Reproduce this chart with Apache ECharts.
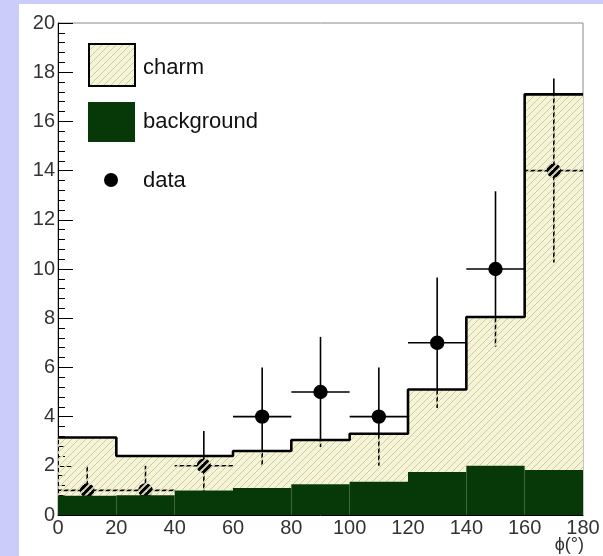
<!DOCTYPE html>
<html>
<head>
<meta charset="utf-8">
<script src="https://cdn.jsdelivr.net/npm/echarts@6/dist/echarts.min.js"></script>
<style>
  html, body { margin: 0; padding: 0; }
  #wrap { position: relative; width: 603px; height: 556px; background: #ccccfa; overflow: hidden; }
  #panel { position: absolute; left: 19px; top: 4px; right: 0; bottom: 0; background: #ffffff; }
  #chart { position: absolute; left: 0; top: 0; width: 603px; height: 556px; }
</style>
</head>
<body>
<div id="wrap"><div id="panel"></div><div id="chart"></div></div>
<script>
// Histogram binning in phi (degrees)
const binEdges = [0, 20, 40, 60, 80, 100, 120, 140, 160, 180];
// Background template (bottom of the stack)
const backgroundCounts = [0.78, 0.8, 1.0, 1.1, 1.25, 1.35, 1.75, 2.0, 1.83];
// Charm + background (top of the stack)
const stackTotal = [3.15, 2.4, 2.4, 2.6, 3.05, 3.3, 5.1, 8.05, 17.1];
// Measured points with vertical error ranges
const dataX = [10, 30, 50, 70, 90, 110, 130, 150, 170];
const dataY = [1, 1, 2, 4, 5, 4, 7, 10, 14];
const dataLow = [0, 0, 0.59, 2.0, 2.76, 2.0, 4.35, 6.84, 10.26];
const dataHigh = [2.0, 2.0, 3.41, 6.0, 7.24, 6.0, 9.65, 13.16, 17.74];
const axisTitle = 'ϕ(°)';

const FONT = 'Liberation Sans, Arial, sans-serif';
const PALE = '#f6f4d6';
const HATCH = '#c2c09e';
const DARK_GREEN = '#073807';

// Diagonal "/" hatch tile; optional opaque base colour
function hatchTile(base) {
  const s = 7;
  const c = document.createElement('canvas');
  c.width = s; c.height = s;
  const g = c.getContext('2d');
  if (base) { g.fillStyle = base; g.fillRect(0, 0, s, s); }
  for (let k = -1; k <= 1; k++) {
    g.beginPath();
    g.moveTo(k * s - 1, s + 1);
    g.lineTo(k * s + s + 1, -1);
    if (!base) {
      g.strokeStyle = PALE; g.lineWidth = 1.9; g.stroke();
    }
    g.strokeStyle = HATCH; g.lineWidth = 0.8; g.stroke();
  }
  return c;
}
const hatchOverlay = { image: hatchTile(null), repeat: 'repeat' };
const hatchSolid = { image: hatchTile(PALE), repeat: 'repeat' };

function binSeries(name, bottoms, tops, fill, z) {
  return {
    type: 'custom', name: name, z: z, silent: true,
    data: tops.map((t, i) => [binEdges[i], binEdges[i + 1], bottoms ? bottoms[i] : 0, t]),
    encode: { x: [0, 1], y: [2, 3] },
    renderItem: function (params, api) {
      const a = api.coord([api.value(0), api.value(3)]);
      const b = api.coord([api.value(1), api.value(2)]);
      return {
        type: 'rect',
        shape: { x: a[0], y: a[1], width: b[0] - a[0], height: b[1] - a[1] },
        style: { fill: fill }
      };
    }
  };
}

const outline = binEdges.map((x, i) => [x, stackTotal[Math.min(i, stackTotal.length - 1)]]);

const pointData = dataX.map((x, i) => [x, dataY[i], dataLow[i], dataHigh[i], binEdges[i], binEdges[i + 1]]);

const chart = echarts.init(document.getElementById('chart'));
chart.setOption({
  animation: false,
  backgroundColor: 'transparent',
  grid: {
    left: 58, top: 23, width: 525, height: 492,
    containLabel: false, outerBoundsMode: 'none',
    show: true, borderColor: '#8a8a8a', borderWidth: 1, backgroundColor: 'transparent'
  },
  xAxis: {
    type: 'value', min: 0, max: 180, interval: 20,
    axisLine: { show: true, lineStyle: { color: '#000', width: 1 } },
    axisTick: { show: false },
    splitLine: { show: false },
    axisLabel: { color: '#333', fontSize: 20, fontFamily: FONT, margin: 3 }
  },
  yAxis: {
    type: 'value', min: 0, max: 20, interval: 2, z: 1.5,
    axisLine: { show: true, lineStyle: { color: '#000', width: 1 } },
    axisTick: { show: true, inside: true, length: 15, lineStyle: { color: '#000', width: 1 } },
    minorTick: { show: true, splitNumber: 5, length: 7, lineStyle: { color: '#000', width: 1 } },
    splitLine: { show: false },
    axisLabel: { color: '#333', fontSize: 20, fontFamily: FONT, margin: 3 }
  },
  series: [
    binSeries('charm', backgroundCounts, stackTotal, PALE, 1),
    {
      type: 'custom', name: 'data', z: 2, silent: true,
      data: pointData,
      encode: { x: 0, y: [1, 2, 3] },
      renderItem: function (params, api) {
        const c = api.coord([api.value(0), api.value(1)]);
        const lo = api.coord([api.value(0), api.value(2)]);
        const hi = api.coord([api.value(0), api.value(3)]);
        const l = api.coord([api.value(4), api.value(1)]);
        const r = api.coord([api.value(5), api.value(1)]);
        const ls = { stroke: '#000', lineWidth: 1.6 };
        return {
          type: 'group',
          children: [
            { type: 'line', shape: { x1: lo[0], y1: lo[1], x2: hi[0], y2: hi[1] }, style: ls },
            { type: 'line', shape: { x1: l[0], y1: l[1], x2: r[0], y2: r[1] }, style: ls },
            { type: 'circle', shape: { cx: c[0], cy: c[1], r: 7.2 }, style: { fill: '#000' } }
          ]
        };
      }
    },
    binSeries('charm hatch', backgroundCounts, stackTotal, hatchOverlay, 3),
    {
      type: 'line', name: 'total', z: 4, silent: true,
      data: outline, step: 'end', symbol: 'none',
      lineStyle: { color: '#000', width: 2.6 }
    },
    binSeries('background', null, backgroundCounts, DARK_GREEN, 5)
  ],
  graphic: [
    { type: 'text', z: 10, x: 584, y: 536, style: { text: axisTitle, fill: '#333', font: '18px ' + FONT, align: 'right', verticalAlign: 'top' } },
    { type: 'rect', z: 10, shape: { x: 89, y: 44, width: 46, height: 42 }, style: { fill: hatchSolid, stroke: '#000', lineWidth: 2 } },
    { type: 'rect', z: 10, shape: { x: 88, y: 102, width: 47, height: 40 }, style: { fill: DARK_GREEN } },
    { type: 'circle', z: 10, shape: { cx: 111, cy: 180, r: 7 }, style: { fill: '#000' } },
    { type: 'text', z: 10, x: 143, y: 68, style: { text: 'charm', fill: '#111', font: '22px ' + FONT, verticalAlign: 'middle' } },
    { type: 'text', z: 10, x: 143, y: 122, style: { text: 'background', fill: '#111', font: '22px ' + FONT, verticalAlign: 'middle' } },
    { type: 'text', z: 10, x: 143, y: 181, style: { text: 'data', fill: '#111', font: '22px ' + FONT, verticalAlign: 'middle' } }
  ]
});
</script>
</body>
</html>
